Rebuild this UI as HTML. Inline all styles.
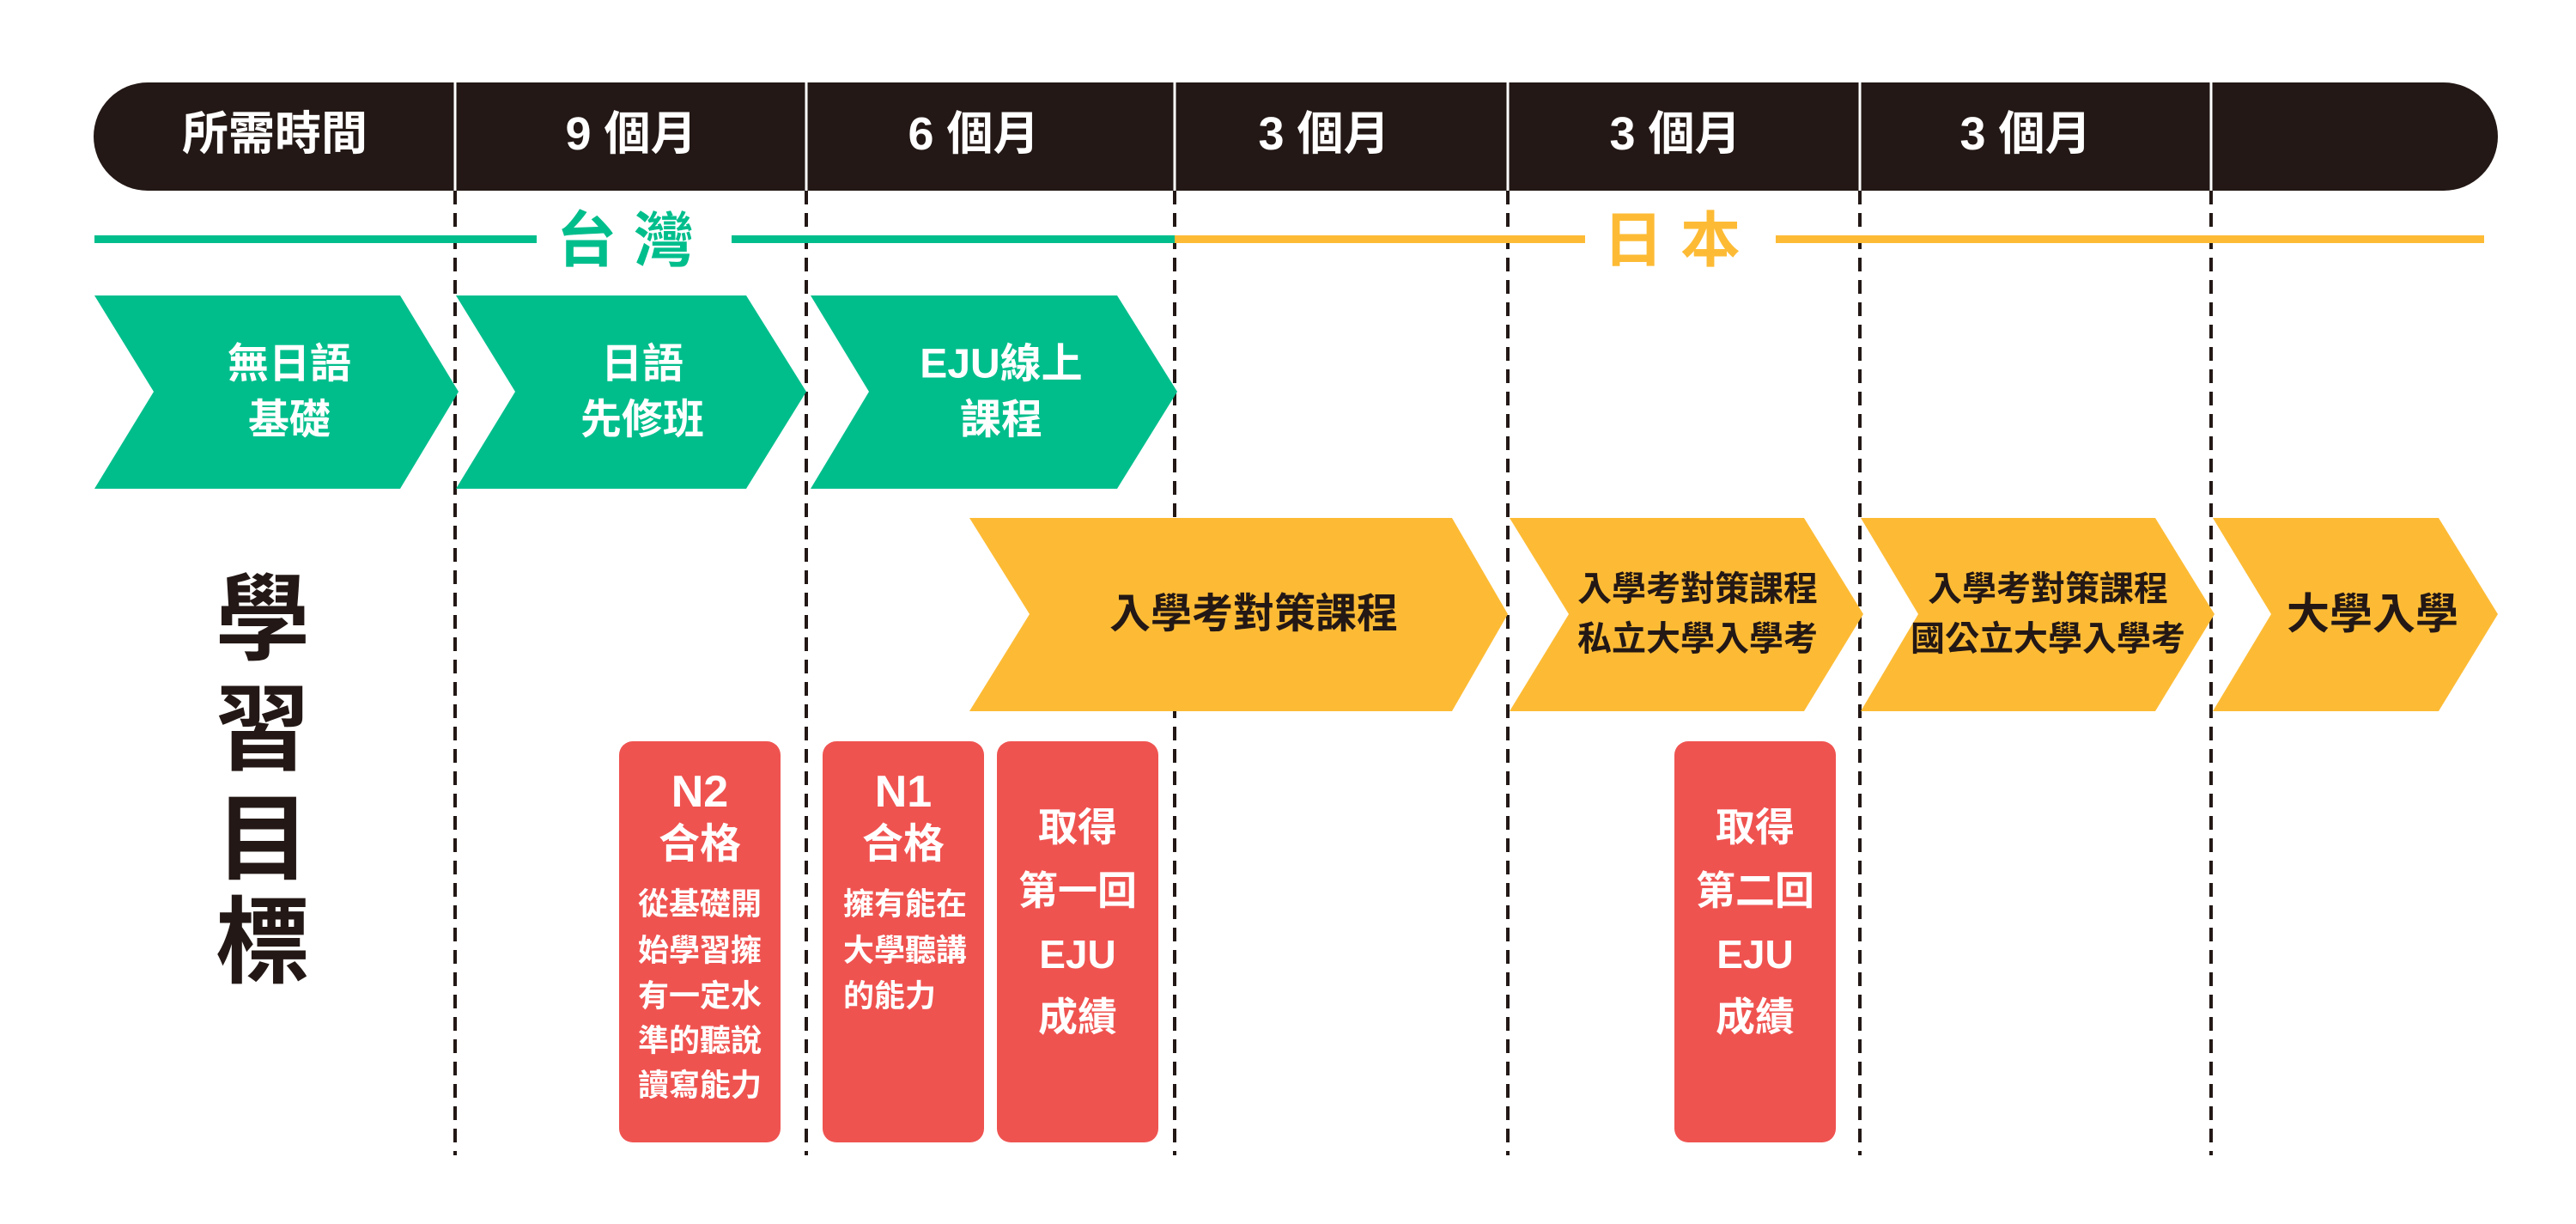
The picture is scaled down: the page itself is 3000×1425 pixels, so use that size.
<!DOCTYPE html>
<html><head><meta charset="utf-8"><style>
html,body{margin:0;padding:0;background:#fff;}
svg{display:block}
text{font-family:"Liberation Sans","Noto Sans CJK TC","Noto Sans CJK SC",sans-serif;font-weight:700;text-anchor:middle;dominant-baseline:central}
text.l{text-anchor:start}
</style></head><body>
<svg width="3000" height="1425" viewBox="0 0 3000 1425" xmlns="http://www.w3.org/2000/svg">
<rect x="0" y="0" width="3000" height="1425" fill="#fff"/>
<g stroke="#231815" stroke-width="4" stroke-dasharray="16,10">
<line x1="530" y1="222" x2="530" y2="1345"/>
<line x1="939" y1="222" x2="939" y2="1345"/>
<line x1="1368" y1="222" x2="1368" y2="1345"/>
<line x1="1756" y1="222" x2="1756" y2="1345"/>
<line x1="2166" y1="222" x2="2166" y2="1345"/>
<line x1="2575" y1="222" x2="2575" y2="1345"/>
</g>
<rect x="109" y="96" width="2800" height="126" rx="63" fill="#231815"/>
<g stroke="#fff" stroke-width="3">
<line x1="530" y1="96" x2="530" y2="222"/><line x1="939" y1="96" x2="939" y2="222"/>
<line x1="1368" y1="96" x2="1368" y2="222"/><line x1="1756" y1="96" x2="1756" y2="222"/>
<line x1="2166" y1="96" x2="2166" y2="222"/><line x1="2575" y1="96" x2="2575" y2="222"/>
</g>
<g fill="#fff" font-size="54">
<text x="320" y="156">所需時間</text>
<text x="735" y="156">9 個月</text>
<text x="1134" y="156">6 個月</text>
<text x="1542" y="156">3 個月</text>
<text x="1951" y="156">3 個月</text>
<text x="2359" y="156">3 個月</text>
</g>
<rect x="110" y="274" width="515" height="9" fill="#00be8c"/>
<rect x="852" y="274" width="516" height="9" fill="#00be8c"/>
<rect x="1368" y="274" width="478" height="9" fill="#fdbb35"/>
<rect x="2068" y="274" width="825" height="9" fill="#fdbb35"/>
<text x="738" y="280" font-size="70" fill="#00be8c" letter-spacing="20">台灣</text>
<text x="1957" y="280" font-size="70" fill="#fdbb35" letter-spacing="20">日本</text>
<g fill="#00be8c">
<polygon points="110,344 466,344 534,456 466,569 110,569 179,456"/>
<polygon points="531,344 869,344 939,456 869,569 531,569 600,456"/>
<polygon points="944,344 1301,344 1371,456 1301,569 944,569 1012,456"/>
</g>
<g fill="#fff" font-size="48">
<text x="337" y="424">無日語</text><text x="337" y="489">基礎</text>
<text x="748" y="424">日語</text><text x="748" y="489">先修班</text>
<text x="1166" y="424">EJU線上</text><text x="1166" y="489">課程</text>
</g>
<g fill="#fdbb35">
<polygon points="1129,603 1691,603 1756,715 1691,828 1129,828 1199,715"/>
<polygon points="1758,603 2101,603 2170,715 2101,828 1758,828 1827,715"/>
<polygon points="2167,603 2510,603 2579,715 2510,828 2167,828 2234,715"/>
<polygon points="2577,603 2840,603 2909,715 2840,828 2577,828 2645,715"/>
</g>
<g fill="#231815">
<text x="1460" y="715" font-size="48">入學考對策課程</text>
<text x="1977" y="686" font-size="40">入學考對策課程</text>
<text x="1977" y="744" font-size="40">私立大學入學考</text>
<text x="2385" y="686" font-size="40">入學考對策課程</text>
<text x="2385" y="744" font-size="40">國公立大學入學考</text>
<text x="2763" y="715" font-size="50">大學入學</text>
</g>
<g fill="#231815" font-size="110">
<text x="306" y="722">學</text><text x="306" y="850">習</text>
<text x="306" y="978">目</text><text x="306" y="1098">標</text>
</g>
<g fill="#ef5350">
<rect x="721" y="863" width="188" height="467" rx="16"/>
<rect x="958" y="863" width="188" height="467" rx="16"/>
<rect x="1161" y="863" width="188" height="467" rx="16"/>
<rect x="1950" y="863" width="188" height="467" rx="16"/>
</g>
<g fill="#fff">
<text x="815" y="922" font-size="52">N2</text>
<text x="815" y="983" font-size="48">合格</text>
<g font-size="36">
<text x="815" y="1052">從基礎開</text><text x="815" y="1106">始學習擁</text>
<text x="815" y="1159">有一定水</text><text x="815" y="1211">準的聽說</text>
<text x="815" y="1263">讀寫能力</text>
</g>
<text x="1052" y="922" font-size="52">N1</text>
<text x="1052" y="983" font-size="48">合格</text>
<g font-size="36">
<text class="l" x="982" y="1052">擁有能在</text><text class="l" x="982" y="1106">大學聽講</text>
<text class="l" x="982" y="1159">的能力</text>
</g>
<g font-size="46">
<text x="1255" y="963">取得</text><text x="1255" y="1037">第一回</text>
<text x="1255" y="1111">EJU</text><text x="1255" y="1184">成績</text>
<text x="2044" y="963">取得</text><text x="2044" y="1037">第二回</text>
<text x="2044" y="1111">EJU</text><text x="2044" y="1184">成績</text>
</g>
</g>
</svg>
</body></html>
